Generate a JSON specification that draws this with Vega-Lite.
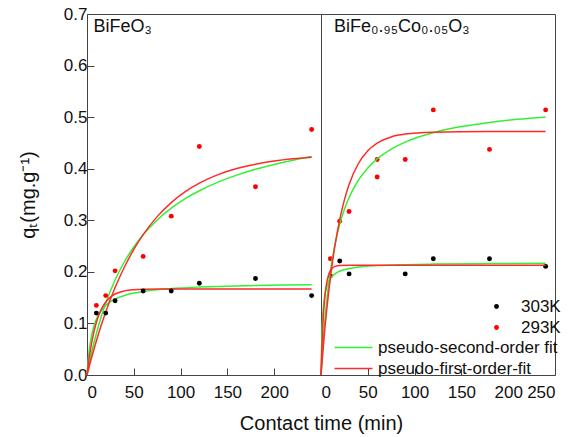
{
  "$schema": "https://vega.github.io/schema/vega-lite/v6.json",
  "padding": {"left": 17, "top": 4, "right": 5, "bottom": 5},
  "spacing": 0,
  "bounds": "flush",
  "config": {
    "font": "Liberation Sans",
    "view": {"stroke": "#444", "strokeWidth": 1},
    "axis": {"grid": false, "domain": false, "tickColor": "#444", "labelColor": "#111", "titleColor": "#111", "labelFontWeight": "normal", "titleFontWeight": "normal"},
    "legend": {"labelFont": "Liberation Sans", "labelColor": "#111", "labelFontSize": 17, "labelLimit": 300}
  },
  "datasets": {
    "leftPts": [
      {"temp": "303K", "t": 10, "q": 0.12}, {"temp": "303K", "t": 20, "q": 0.12}, {"temp": "303K", "t": 30, "q": 0.144},
      {"temp": "303K", "t": 60, "q": 0.163}, {"temp": "303K", "t": 90, "q": 0.163}, {"temp": "303K", "t": 120, "q": 0.178},
      {"temp": "303K", "t": 180, "q": 0.187}, {"temp": "303K", "t": 240, "q": 0.154},
      {"temp": "293K", "t": 10, "q": 0.135}, {"temp": "293K", "t": 20, "q": 0.154}, {"temp": "293K", "t": 30, "q": 0.202},
      {"temp": "293K", "t": 60, "q": 0.23}, {"temp": "293K", "t": 90, "q": 0.308}, {"temp": "293K", "t": 120, "q": 0.443},
      {"temp": "293K", "t": 180, "q": 0.365}, {"temp": "293K", "t": 240, "q": 0.476}
    ],
    "rightPts": [
      {"temp": "303K", "t": 10, "q": 0.192}, {"temp": "303K", "t": 20, "q": 0.221}, {"temp": "303K", "t": 30, "q": 0.196},
      {"temp": "303K", "t": 90, "q": 0.196}, {"temp": "303K", "t": 120, "q": 0.2255}, {"temp": "303K", "t": 180, "q": 0.2255},
      {"temp": "303K", "t": 240, "q": 0.2106},
      {"temp": "293K", "t": 10, "q": 0.2255}, {"temp": "293K", "t": 20, "q": 0.298}, {"temp": "293K", "t": 30, "q": 0.317},
      {"temp": "293K", "t": 60, "q": 0.418}, {"temp": "293K", "t": 60, "q": 0.384}, {"temp": "293K", "t": 90, "q": 0.418},
      {"temp": "293K", "t": 120, "q": 0.514}, {"temp": "293K", "t": 180, "q": 0.4375}, {"temp": "293K", "t": 240, "q": 0.514}
    ],
    "leftFits": [
      {"temp": "293K", "fit": "pseudo-second-order fit", "t": 0, "q": 0},
      {"temp": "293K", "fit": "pseudo-second-order fit", "t": 5, "q": 0.0436},
      {"temp": "293K", "fit": "pseudo-second-order fit", "t": 10, "q": 0.0804},
      {"temp": "293K", "fit": "pseudo-second-order fit", "t": 15, "q": 0.1119},
      {"temp": "293K", "fit": "pseudo-second-order fit", "t": 20, "q": 0.1392},
      {"temp": "293K", "fit": "pseudo-second-order fit", "t": 30, "q": 0.1842},
      {"temp": "293K", "fit": "pseudo-second-order fit", "t": 40, "q": 0.2196},
      {"temp": "293K", "fit": "pseudo-second-order fit", "t": 50, "q": 0.2483},
      {"temp": "293K", "fit": "pseudo-second-order fit", "t": 60, "q": 0.272},
      {"temp": "293K", "fit": "pseudo-second-order fit", "t": 75, "q": 0.3007},
      {"temp": "293K", "fit": "pseudo-second-order fit", "t": 90, "q": 0.3234},
      {"temp": "293K", "fit": "pseudo-second-order fit", "t": 105, "q": 0.3419},
      {"temp": "293K", "fit": "pseudo-second-order fit", "t": 120, "q": 0.3572},
      {"temp": "293K", "fit": "pseudo-second-order fit", "t": 140, "q": 0.3739},
      {"temp": "293K", "fit": "pseudo-second-order fit", "t": 160, "q": 0.3875},
      {"temp": "293K", "fit": "pseudo-second-order fit", "t": 180, "q": 0.3988},
      {"temp": "293K", "fit": "pseudo-second-order fit", "t": 200, "q": 0.4083},
      {"temp": "293K", "fit": "pseudo-second-order fit", "t": 220, "q": 0.4165},
      {"temp": "293K", "fit": "pseudo-second-order fit", "t": 240, "q": 0.4235},
      {"temp": "303K", "fit": "pseudo-second-order fit", "t": 0, "q": 0},
      {"temp": "303K", "fit": "pseudo-second-order fit", "t": 2, "q": 0.0415},
      {"temp": "303K", "fit": "pseudo-second-order fit", "t": 4, "q": 0.0675},
      {"temp": "303K", "fit": "pseudo-second-order fit", "t": 6, "q": 0.0853},
      {"temp": "303K", "fit": "pseudo-second-order fit", "t": 8, "q": 0.0982},
      {"temp": "303K", "fit": "pseudo-second-order fit", "t": 10, "q": 0.108},
      {"temp": "303K", "fit": "pseudo-second-order fit", "t": 12, "q": 0.1157},
      {"temp": "303K", "fit": "pseudo-second-order fit", "t": 15, "q": 0.1246},
      {"temp": "303K", "fit": "pseudo-second-order fit", "t": 20, "q": 0.135},
      {"temp": "303K", "fit": "pseudo-second-order fit", "t": 25, "q": 0.1421},
      {"temp": "303K", "fit": "pseudo-second-order fit", "t": 30, "q": 0.1473},
      {"temp": "303K", "fit": "pseudo-second-order fit", "t": 40, "q": 0.1543},
      {"temp": "303K", "fit": "pseudo-second-order fit", "t": 50, "q": 0.1588},
      {"temp": "303K", "fit": "pseudo-second-order fit", "t": 60, "q": 0.162},
      {"temp": "303K", "fit": "pseudo-second-order fit", "t": 80, "q": 0.1662},
      {"temp": "303K", "fit": "pseudo-second-order fit", "t": 100, "q": 0.1688},
      {"temp": "303K", "fit": "pseudo-second-order fit", "t": 120, "q": 0.1705},
      {"temp": "303K", "fit": "pseudo-second-order fit", "t": 150, "q": 0.1723},
      {"temp": "303K", "fit": "pseudo-second-order fit", "t": 180, "q": 0.1736},
      {"temp": "303K", "fit": "pseudo-second-order fit", "t": 210, "q": 0.1745},
      {"temp": "303K", "fit": "pseudo-second-order fit", "t": 240, "q": 0.1751},
      {"temp": "293K", "fit": "pseudo-first-order-fit", "t": 0, "q": 0},
      {"temp": "293K", "fit": "pseudo-first-order-fit", "t": 5, "q": 0.0344},
      {"temp": "293K", "fit": "pseudo-first-order-fit", "t": 10, "q": 0.0661},
      {"temp": "293K", "fit": "pseudo-first-order-fit", "t": 15, "q": 0.0953},
      {"temp": "293K", "fit": "pseudo-first-order-fit", "t": 20, "q": 0.1221},
      {"temp": "293K", "fit": "pseudo-first-order-fit", "t": 30, "q": 0.1695},
      {"temp": "293K", "fit": "pseudo-first-order-fit", "t": 40, "q": 0.2095},
      {"temp": "293K", "fit": "pseudo-first-order-fit", "t": 50, "q": 0.2434},
      {"temp": "293K", "fit": "pseudo-first-order-fit", "t": 60, "q": 0.2721},
      {"temp": "293K", "fit": "pseudo-first-order-fit", "t": 75, "q": 0.3071},
      {"temp": "293K", "fit": "pseudo-first-order-fit", "t": 90, "q": 0.3343},
      {"temp": "293K", "fit": "pseudo-first-order-fit", "t": 105, "q": 0.3555},
      {"temp": "293K", "fit": "pseudo-first-order-fit", "t": 120, "q": 0.372},
      {"temp": "293K", "fit": "pseudo-first-order-fit", "t": 140, "q": 0.3885},
      {"temp": "293K", "fit": "pseudo-first-order-fit", "t": 160, "q": 0.4003},
      {"temp": "293K", "fit": "pseudo-first-order-fit", "t": 180, "q": 0.4087},
      {"temp": "293K", "fit": "pseudo-first-order-fit", "t": 200, "q": 0.4148},
      {"temp": "293K", "fit": "pseudo-first-order-fit", "t": 220, "q": 0.4191},
      {"temp": "293K", "fit": "pseudo-first-order-fit", "t": 240, "q": 0.4222},
      {"temp": "303K", "fit": "pseudo-first-order-fit", "t": 0, "q": 0},
      {"temp": "303K", "fit": "pseudo-first-order-fit", "t": 2, "q": 0.0286},
      {"temp": "303K", "fit": "pseudo-first-order-fit", "t": 4, "q": 0.0523},
      {"temp": "303K", "fit": "pseudo-first-order-fit", "t": 6, "q": 0.072},
      {"temp": "303K", "fit": "pseudo-first-order-fit", "t": 8, "q": 0.0883},
      {"temp": "303K", "fit": "pseudo-first-order-fit", "t": 10, "q": 0.1018},
      {"temp": "303K", "fit": "pseudo-first-order-fit", "t": 12, "q": 0.1129},
      {"temp": "303K", "fit": "pseudo-first-order-fit", "t": 15, "q": 0.1262},
      {"temp": "303K", "fit": "pseudo-first-order-fit", "t": 20, "q": 0.1415},
      {"temp": "303K", "fit": "pseudo-first-order-fit", "t": 25, "q": 0.1511},
      {"temp": "303K", "fit": "pseudo-first-order-fit", "t": 30, "q": 0.157},
      {"temp": "303K", "fit": "pseudo-first-order-fit", "t": 40, "q": 0.1631},
      {"temp": "303K", "fit": "pseudo-first-order-fit", "t": 50, "q": 0.1655},
      {"temp": "303K", "fit": "pseudo-first-order-fit", "t": 60, "q": 0.1664},
      {"temp": "303K", "fit": "pseudo-first-order-fit", "t": 80, "q": 0.1669},
      {"temp": "303K", "fit": "pseudo-first-order-fit", "t": 120, "q": 0.167},
      {"temp": "303K", "fit": "pseudo-first-order-fit", "t": 180, "q": 0.167},
      {"temp": "303K", "fit": "pseudo-first-order-fit", "t": 240, "q": 0.167}
    ],
    "rightFits": [
      {"temp": "293K", "fit": "pseudo-second-order fit", "t": 0, "q": 0},
      {"temp": "293K", "fit": "pseudo-second-order fit", "t": 2, "q": 0.0575},
      {"temp": "293K", "fit": "pseudo-second-order fit", "t": 4, "q": 0.1038},
      {"temp": "293K", "fit": "pseudo-second-order fit", "t": 6, "q": 0.142},
      {"temp": "293K", "fit": "pseudo-second-order fit", "t": 8, "q": 0.1739},
      {"temp": "293K", "fit": "pseudo-second-order fit", "t": 10, "q": 0.201},
      {"temp": "293K", "fit": "pseudo-second-order fit", "t": 12, "q": 0.2244},
      {"temp": "293K", "fit": "pseudo-second-order fit", "t": 15, "q": 0.2539},
      {"temp": "293K", "fit": "pseudo-second-order fit", "t": 20, "q": 0.2923},
      {"temp": "293K", "fit": "pseudo-second-order fit", "t": 25, "q": 0.3214},
      {"temp": "293K", "fit": "pseudo-second-order fit", "t": 30, "q": 0.3443},
      {"temp": "293K", "fit": "pseudo-second-order fit", "t": 40, "q": 0.378},
      {"temp": "293K", "fit": "pseudo-second-order fit", "t": 50, "q": 0.4016},
      {"temp": "293K", "fit": "pseudo-second-order fit", "t": 60, "q": 0.419},
      {"temp": "293K", "fit": "pseudo-second-order fit", "t": 75, "q": 0.438},
      {"temp": "293K", "fit": "pseudo-second-order fit", "t": 90, "q": 0.4516},
      {"temp": "293K", "fit": "pseudo-second-order fit", "t": 105, "q": 0.4619},
      {"temp": "293K", "fit": "pseudo-second-order fit", "t": 120, "q": 0.4699},
      {"temp": "293K", "fit": "pseudo-second-order fit", "t": 150, "q": 0.4817},
      {"temp": "293K", "fit": "pseudo-second-order fit", "t": 180, "q": 0.4898},
      {"temp": "293K", "fit": "pseudo-second-order fit", "t": 210, "q": 0.4958},
      {"temp": "293K", "fit": "pseudo-second-order fit", "t": 240, "q": 0.5004},
      {"temp": "303K", "fit": "pseudo-second-order fit", "t": 0, "q": 0},
      {"temp": "303K", "fit": "pseudo-second-order fit", "t": 1, "q": 0.0818},
      {"temp": "303K", "fit": "pseudo-second-order fit", "t": 2, "q": 0.1189},
      {"temp": "303K", "fit": "pseudo-second-order fit", "t": 3, "q": 0.1401},
      {"temp": "303K", "fit": "pseudo-second-order fit", "t": 4, "q": 0.1539},
      {"temp": "303K", "fit": "pseudo-second-order fit", "t": 5, "q": 0.1635},
      {"temp": "303K", "fit": "pseudo-second-order fit", "t": 6, "q": 0.1706},
      {"temp": "303K", "fit": "pseudo-second-order fit", "t": 8, "q": 0.1804},
      {"temp": "303K", "fit": "pseudo-second-order fit", "t": 10, "q": 0.1869},
      {"temp": "303K", "fit": "pseudo-second-order fit", "t": 12, "q": 0.1914},
      {"temp": "303K", "fit": "pseudo-second-order fit", "t": 15, "q": 0.1962},
      {"temp": "303K", "fit": "pseudo-second-order fit", "t": 20, "q": 0.2012},
      {"temp": "303K", "fit": "pseudo-second-order fit", "t": 30, "q": 0.2065},
      {"temp": "303K", "fit": "pseudo-second-order fit", "t": 40, "q": 0.2093},
      {"temp": "303K", "fit": "pseudo-second-order fit", "t": 60, "q": 0.2121},
      {"temp": "303K", "fit": "pseudo-second-order fit", "t": 90, "q": 0.214},
      {"temp": "303K", "fit": "pseudo-second-order fit", "t": 120, "q": 0.215},
      {"temp": "303K", "fit": "pseudo-second-order fit", "t": 180, "q": 0.216},
      {"temp": "303K", "fit": "pseudo-second-order fit", "t": 240, "q": 0.2165},
      {"temp": "293K", "fit": "pseudo-first-order-fit", "t": 0, "q": 0},
      {"temp": "293K", "fit": "pseudo-first-order-fit", "t": 2, "q": 0.0456},
      {"temp": "293K", "fit": "pseudo-first-order-fit", "t": 4, "q": 0.0868},
      {"temp": "293K", "fit": "pseudo-first-order-fit", "t": 6, "q": 0.124},
      {"temp": "293K", "fit": "pseudo-first-order-fit", "t": 8, "q": 0.1576},
      {"temp": "293K", "fit": "pseudo-first-order-fit", "t": 10, "q": 0.188},
      {"temp": "293K", "fit": "pseudo-first-order-fit", "t": 12, "q": 0.2154},
      {"temp": "293K", "fit": "pseudo-first-order-fit", "t": 15, "q": 0.2517},
      {"temp": "293K", "fit": "pseudo-first-order-fit", "t": 20, "q": 0.3011},
      {"temp": "293K", "fit": "pseudo-first-order-fit", "t": 25, "q": 0.3395},
      {"temp": "293K", "fit": "pseudo-first-order-fit", "t": 30, "q": 0.3692},
      {"temp": "293K", "fit": "pseudo-first-order-fit", "t": 40, "q": 0.4101},
      {"temp": "293K", "fit": "pseudo-first-order-fit", "t": 50, "q": 0.4348},
      {"temp": "293K", "fit": "pseudo-first-order-fit", "t": 60, "q": 0.4496},
      {"temp": "293K", "fit": "pseudo-first-order-fit", "t": 75, "q": 0.4616},
      {"temp": "293K", "fit": "pseudo-first-order-fit", "t": 90, "q": 0.4671},
      {"temp": "293K", "fit": "pseudo-first-order-fit", "t": 120, "q": 0.4709},
      {"temp": "293K", "fit": "pseudo-first-order-fit", "t": 150, "q": 0.4718},
      {"temp": "293K", "fit": "pseudo-first-order-fit", "t": 180, "q": 0.472},
      {"temp": "293K", "fit": "pseudo-first-order-fit", "t": 240, "q": 0.472},
      {"temp": "303K", "fit": "pseudo-first-order-fit", "t": 0, "q": 0},
      {"temp": "303K", "fit": "pseudo-first-order-fit", "t": 1, "q": 0.0552},
      {"temp": "303K", "fit": "pseudo-first-order-fit", "t": 2, "q": 0.0961},
      {"temp": "303K", "fit": "pseudo-first-order-fit", "t": 3, "q": 0.1264},
      {"temp": "303K", "fit": "pseudo-first-order-fit", "t": 4, "q": 0.1488},
      {"temp": "303K", "fit": "pseudo-first-order-fit", "t": 5, "q": 0.1655},
      {"temp": "303K", "fit": "pseudo-first-order-fit", "t": 6, "q": 0.1778},
      {"temp": "303K", "fit": "pseudo-first-order-fit", "t": 8, "q": 0.1937},
      {"temp": "303K", "fit": "pseudo-first-order-fit", "t": 10, "q": 0.2024},
      {"temp": "303K", "fit": "pseudo-first-order-fit", "t": 12, "q": 0.2072},
      {"temp": "303K", "fit": "pseudo-first-order-fit", "t": 15, "q": 0.2106},
      {"temp": "303K", "fit": "pseudo-first-order-fit", "t": 20, "q": 0.2125},
      {"temp": "303K", "fit": "pseudo-first-order-fit", "t": 30, "q": 0.213},
      {"temp": "303K", "fit": "pseudo-first-order-fit", "t": 60, "q": 0.213},
      {"temp": "303K", "fit": "pseudo-first-order-fit", "t": 120, "q": 0.213},
      {"temp": "303K", "fit": "pseudo-first-order-fit", "t": 240, "q": 0.213}
    ]
  },
  "hconcat": [
    {
      "width": 234,
      "height": 361,
      "layer": [
        {
          "data": {"name": "leftFits"},
          "mark": {"type": "line", "strokeWidth": 1.5, "interpolate": "monotone"},
          "encoding": {
            "x": {"field": "t", "type": "quantitative", "scale": {"domain": [0, 250], "nice": false},
              "axis": {"values": [0, 25, 50, 75, 100, 125, 150, 175, 200, 225, 250],
                "labelExpr": "datum.value % 50 === 0 && datum.value < 250 ? datum.label : ''",
                "tickSize": {"condition": {"test": "datum.value % 50 === 0", "value": -7}, "value": -4},
                "labelFontSize": 17, "labelPadding": 16,
                "title": "Contact time (min)", "titleFontSize": 20, "titleAnchor": "end", "titleAlign": "center", "titlePadding": 13}},
            "y": {"field": "q", "type": "quantitative", "scale": {"domain": [0, 0.7], "nice": false},
              "axis": {"values": [0, 0.05, 0.1, 0.15, 0.2, 0.25, 0.3, 0.35, 0.4, 0.45, 0.5, 0.55, 0.6, 0.65, 0.7],
                "labelExpr": "round(datum.value * 100) % 10 === 0 ? format(datum.value, '.1f') : ''",
                "tickSize": {"condition": {"test": "round(datum.value * 100) % 10 === 0", "value": -7}, "value": -4},
                "labelFontSize": 17, "labelPadding": 7,
                "title": "qₜ(mg.g⁻¹)", "titleFontSize": 20, "titlePadding": 25}},
            "stroke": {"field": "fit", "type": "nominal",
              "scale": {"domain": ["pseudo-second-order fit", "pseudo-first-order-fit"], "range": ["#33f033", "#ff2a2a"]},
              "legend": null},
            "detail": {"field": "temp"}
          }
        },
        {
          "data": {"name": "leftPts"},
          "mark": {"type": "circle", "size": 24, "opacity": 1},
          "encoding": {
            "x": {"field": "t", "type": "quantitative"},
            "y": {"field": "q", "type": "quantitative"},
            "fill": {"field": "temp", "type": "nominal",
              "scale": {"domain": ["303K", "293K"], "range": ["#000000", "#ff0000"]}, "legend": null}
          }
        },
        {
          "data": {"values": [{}]},
          "mark": {"type": "text", "text": "BiFeO₃", "align": "left", "baseline": "alphabetic", "fontSize": 18, "color": "#111"},
          "encoding": {"x": {"datum": 7}, "y": {"datum": 0.665}}
        }
      ]
    },
    {
      "width": 234,
      "height": 361,
      "layer": [
        {
          "data": {"name": "rightPts"},
          "mark": {"type": "circle", "size": 24, "opacity": 1},
          "encoding": {
            "x": {"field": "t", "type": "quantitative", "scale": {"domain": [0, 250], "nice": false},
              "axis": {"values": [0, 25, 50, 75, 100, 125, 150, 175, 200, 225, 250],
                "labelExpr": "datum.value % 50 === 0 ? datum.label : ''",
                "tickSize": {"condition": {"test": "datum.value % 50 === 0", "value": -7}, "value": -4},
                "labelFontSize": 17, "labelPadding": 16, "title": null}},
            "y": {"field": "q", "type": "quantitative", "scale": {"domain": [0, 0.7], "nice": false}, "axis": null},
            "fill": {"field": "temp", "type": "nominal",
              "scale": {"domain": ["303K", "293K"], "range": ["#000000", "#ff0000"]},
              "legend": {"title": null, "orient": "none", "legendX": 167, "legendY": 284, "symbolType": "circle", "symbolSize": 24, "labelOffset": 16, "rowPadding": 3, "labelFontSize": 17}}
          }
        },
        {
          "data": {"name": "rightFits"},
          "mark": {"type": "line", "strokeWidth": 1.5, "interpolate": "monotone"},
          "encoding": {
            "x": {"field": "t", "type": "quantitative"},
            "y": {"field": "q", "type": "quantitative"},
            "stroke": {"field": "fit", "type": "nominal",
              "scale": {"domain": ["pseudo-second-order fit", "pseudo-first-order-fit"], "range": ["#33f033", "#ff2a2a"]},
              "legend": {"title": null, "orient": "none", "legendX": 22, "legendY": 323, "symbolType": "M-2,0H2", "symbolSize": 361, "symbolStrokeWidth": 1.5, "labelOffset": 14, "rowPadding": 2, "labelFontSize": 17}},
            "detail": {"field": "temp"}
          }
        },
        {
          "data": {"values": [{}]},
          "mark": {"type": "text", "text": "BiFe₀.₉₅Co₀.₀₅O₃", "align": "left", "baseline": "alphabetic", "fontSize": 18, "color": "#111"},
          "encoding": {"x": {"datum": 14}, "y": {"datum": 0.665}}
        }
      ],
      "resolve": {"scale": {"fill": "independent", "stroke": "independent"}}
    }
  ],
  "resolve": {"scale": {"x": "independent", "y": "independent", "fill": "independent", "stroke": "independent"}, "legend": {"fill": "independent", "stroke": "independent"}}
}
